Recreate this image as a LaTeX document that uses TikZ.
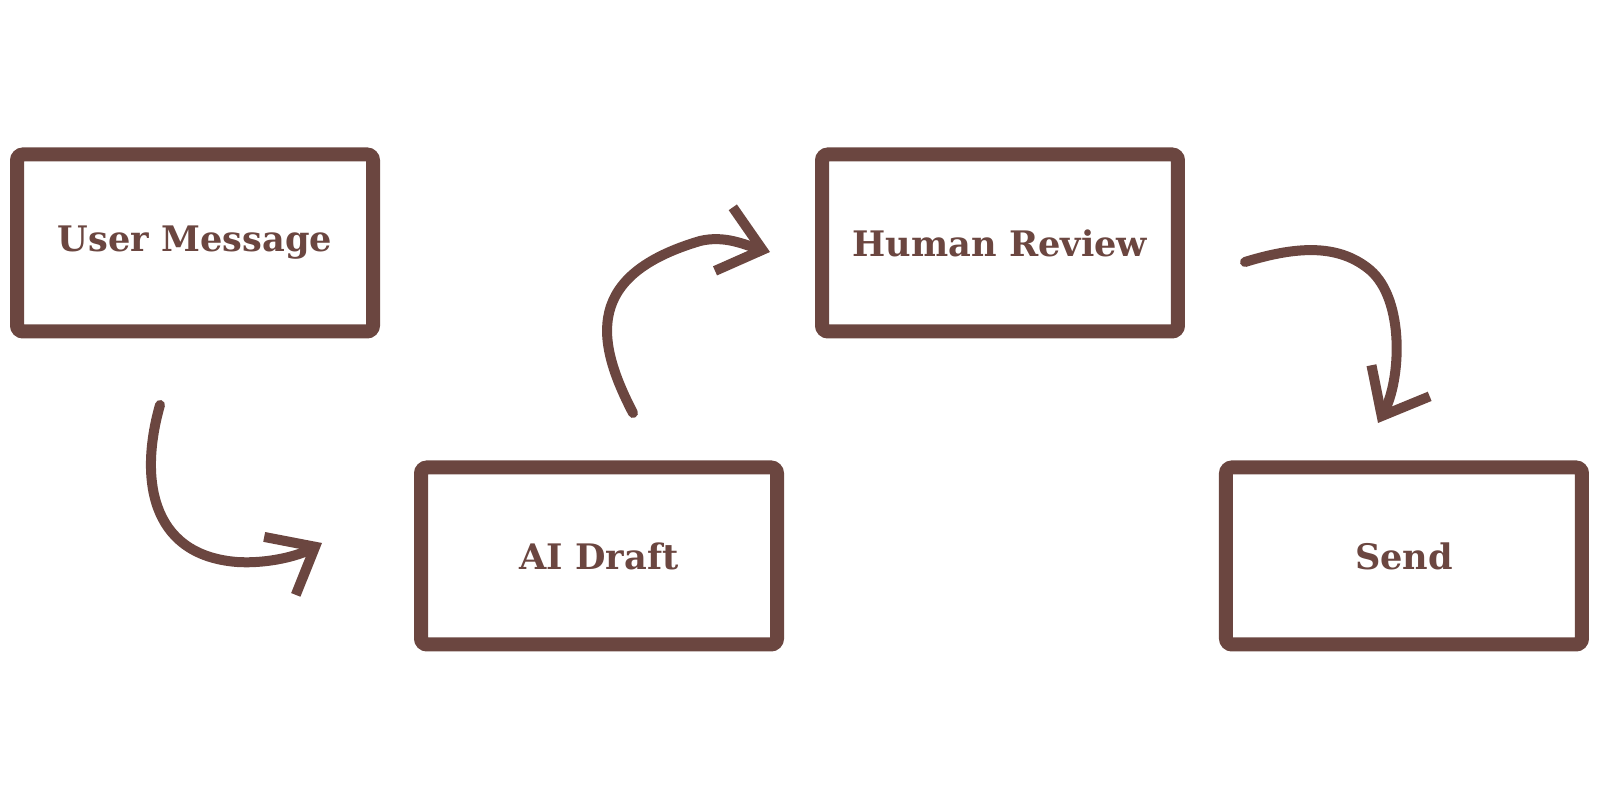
\documentclass[tikz,border=0pt]{standalone}
\usepackage{fontspec}
\newfontfamily\boxfont{DejaVu Serif}
\usetikzlibrary{positioning,arrows.meta}
\definecolor{bark}{HTML}{6B4640}

\begin{document}
\begin{tikzpicture}[x=0.1mm, y=-0.1mm, node distance=12.2mm and 3.4mm,
  box/.style={draw=bark, line width=1.4mm, rounded corners=0.6mm, minimum width=35.6mm, minimum height=17.7mm, text=bark, font=\boxfont\bfseries\fontsize{10}{12}\selectfont},
  flow/.style={draw=bark, line width=1mm, line cap=round, line join=round, -{Straight Barb[length=4mm, width=6.6mm]}}]
\useasboundingbox (0,0) rectangle (1600,800);
\node[box] (user) at (195,243) {User Message};
\node[box, right=43.5mm of user] (review) {Human Review};
\node[box, below right=of user] (draft) {AI Draft};
\node[box, below right=of review] (send) {Send};
% hand drawn arrows
\coordinate (u1) at (160,405); \coordinate (d1) at (322,543);
\coordinate (d2) at (633,413); \coordinate (r2) at (770,252);
\coordinate (r3) at (1245,262); \coordinate (s3) at (1378,423);
\draw[flow] (u1) .. controls (140,475) and (148,555) .. (237,562) .. controls (270,564) and (300,555) .. (d1);
\draw[flow] (d2) .. controls (595,340) and (585,275) .. (700,241) .. controls (725,235) and (745,245) .. (r2);
\draw[flow] (r3) .. controls (1300,245) and (1340,245) .. (1370,270) .. controls (1405,300) and (1401,380) .. (s3);
\end{tikzpicture}
\end{document}
